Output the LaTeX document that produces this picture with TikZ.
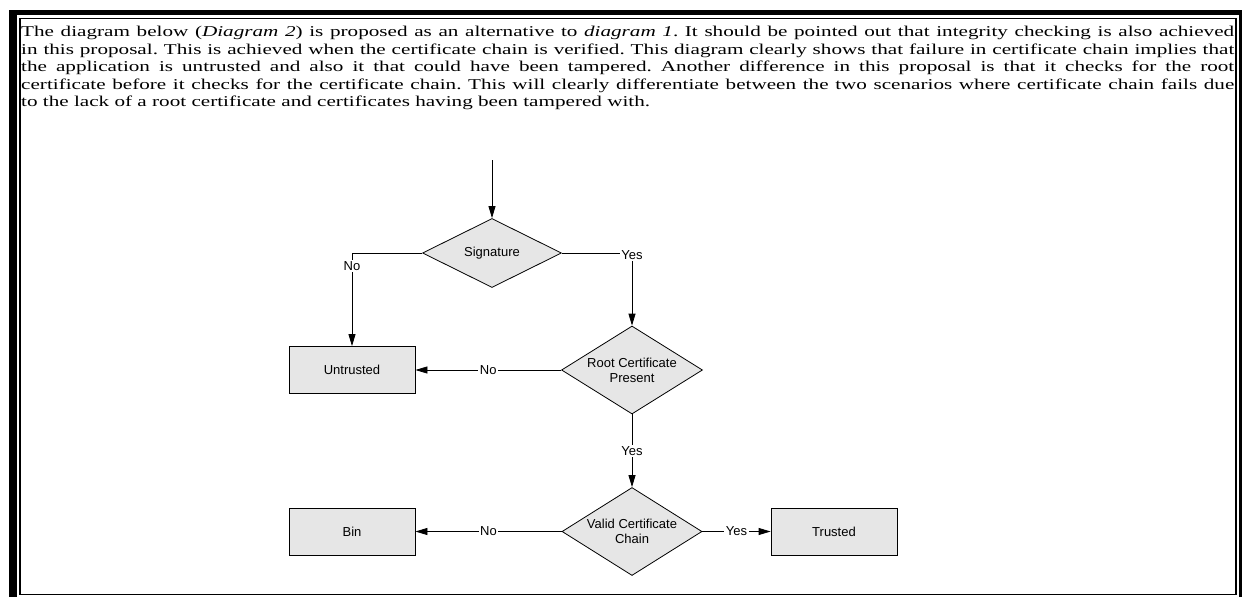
\documentclass[tikz,border=0pt]{standalone}
\usepackage{fontspec}
\setmainfont{Liberation Serif}
\setsansfont{Liberation Sans}
\newfontfamily\bodyfont[FakeStretch=1.41]{Liberation Serif}
\usepackage{xcolor}
\usepackage{tikz}
\usetikzlibrary{shapes,arrows.meta,positioning}

\definecolor{boxgray}{RGB}{230,230,230}

\begin{document}
\frenchspacing
\begin{tikzpicture}[
        x=1pt, y=-1pt,
        decision/.style={diamond, draw, fill=boxgray, aspect=1.6, inner sep=0pt,
            align=center, line width=0.8pt, font=\sffamily\fontsize{13}{15}\selectfont},
        outcome/.style={rectangle, draw, fill=boxgray, minimum width=126pt,
            minimum height=47pt, line width=0.8pt, font=\sffamily\fontsize{13}{15}\selectfont},
        flow/.style={-{Triangle[length=12pt,width=7pt]}, line width=0.8pt},
        choice/.style={fill=white, inner sep=1.5pt, font=\sffamily\fontsize{13}{15}\selectfont}
    ]
                \useasboundingbox (0,0) rectangle (1242,597);

                \fill (9,10) rectangle (17,597);
                \fill (9,10) rectangle (1242,15);
                \fill (1238.5,10) rectangle (1242,597);
                \draw[
                    line width=1.5pt
                ] (20,18.5) rectangle (1236,594.5);

                \node[
                    anchor=north west,
                    inner sep=0pt,
                    text width=1213pt,
                    align=justify,
                    font=\bodyfont\fontsize{15}{17.5}\selectfont
                ] (intro) at (21,26) {The diagram below (\textit{Diagram 2}) is proposed as an alternative to \textit{diagram 1}. It should be pointed out that integrity checking is also achieved\linebreak
                in this proposal. This is achieved when the certificate chain is verified. This diagram clearly shows that failure in certificate chain implies that\linebreak
                the application is untrusted and also it that could have been tampered. Another difference in this proposal is that it checks for the root\linebreak
                certificate before it checks for the certificate chain. This will clearly differentiate between the two scenarios where certificate chain fails due\linebreak
                to the lack of a root certificate and certificates having been tampered with.};

                \coordinate (entry) at (492,160);
                \node[decision, minimum width=139pt, minimum height=69pt] (signature) at (492,253) {Signature};
                \node[decision, minimum width=141pt, minimum height=88pt] (root) at (632,370) {Root Certificate\\Present};
                \node[decision, minimum width=140pt, minimum height=88pt] (valid) at (632,531.5) {Valid Certificate\\Chain};
                \node[outcome] (untrusted) at (352,370) {Untrusted};
                \node[outcome] (bin) at (352,531.5) {Bin};
                \node[outcome] (trusted) at (834,531.5) {Trusted};

                \draw[flow] (entry) -- (signature.north);
                \draw[flow] (signature.west) -| node[choice, pos=0.57] {No} (untrusted.north);
                \draw[flow] (signature.east) -| node[choice, pos=0.5, yshift=-2pt] {Yes} (root.north);
                \draw[flow] (root.west) -- node[choice] {No} (untrusted.east);
                \draw[flow] (root.south) -- node[choice] {Yes} (valid.north);
                \draw[flow] (valid.west) -- node[choice] {No} (bin.east);
                \draw[flow] (valid.east) -- node[choice] {Yes} (trusted.west);
\end{tikzpicture}
\end{document}
